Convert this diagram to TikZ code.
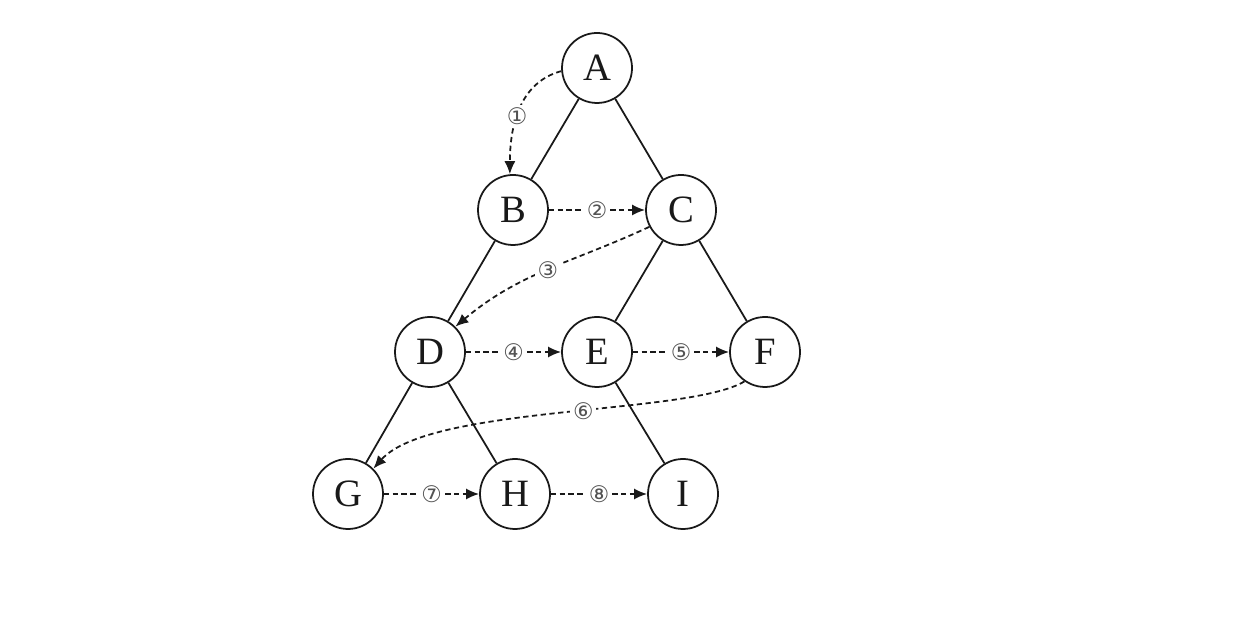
\documentclass[tikz,border=0pt]{standalone}
\usepackage{fontspec}
\setmainfont{Liberation Serif}
\newfontfamily\markfont{DejaVu Sans}
\usetikzlibrary{arrows.meta,positioning}
\definecolor{tvInk}{RGB}{25,25,25}
\tikzset{
    vert/.style={
        draw=tvInk,line width=1pt,circle,minimum size=1.4cm,inner sep=0pt,
        fill=white,font=\fontsize{22}{24}\selectfont,text=tvInk
    },
    link/.style={draw=tvInk,line width=1pt},
    visit/.style={
        -{Latex[length=2.6mm,width=2.2mm]},line width=1pt,
        dash pattern=on 3pt off 2pt,draw=tvInk
    },
    tag/.style={
        fill=white,inner sep=1.5pt,font=\markfont\fontsize{13}{13}\selectfont,text=tvInk!75
    }
}
\begin{document}
\begin{tikzpicture}
\useasboundingbox (0,0) rectangle (24.72,12.48);

\node[vert] (A) at (11.94,11.12) {A};
\node[vert] (B) at (10.26,8.28) {B};
\node[vert] (C) at (13.62,8.28) {C};
\node[vert] (D) at (8.60,5.44) {D};
\node[vert] (E) at (11.94,5.44) {E};
\node[vert] (F) at (15.30,5.44) {F};
\node[vert] (G) at (6.96,2.60) {G};
\node[vert] (H) at (10.30,2.60) {H};
\node[vert] (I) at (13.66,2.60) {I};

% tree edges
\draw[link] (A)--(B);
\draw[link] (A)--(C);
\draw[link] (B)--(D);
\draw[link] (C)--(E);
\draw[link] (C)--(F);
\draw[link] (D)--(G);
\draw[link] (D)--(H);
\draw[link] (E)--(I);

% visiting order
\draw[visit] (A.185) to[out=195,in=90] node[tag,pos=0.55]{①} (B.95);
\draw[visit] (B)--node[tag]{②}(C);
\draw[visit] (C.208) to[out=205,in=40] node[tag,pos=0.5]{③} (D.45);
\draw[visit] (D)--node[tag]{④}(E);
\draw[visit] (E)--node[tag]{⑤}(F);
\draw[visit] (F.235) .. controls (13.8,4.18) and (8.6,4.38) .. node[tag,pos=0.45]{⑥} (G.45);
\draw[visit] (G)--node[tag]{⑦}(H);
\draw[visit] (H)--node[tag]{⑧}(I);

\end{tikzpicture}
\end{document}
